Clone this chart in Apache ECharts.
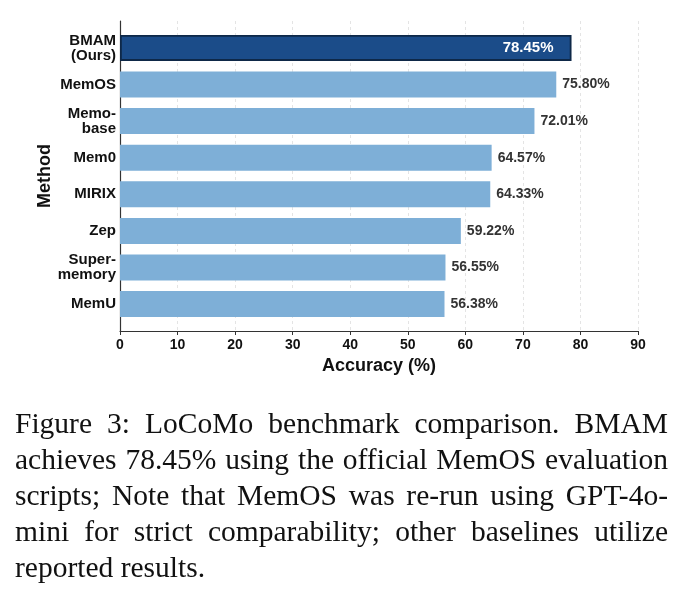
<!DOCTYPE html>
<html>
<head>
<meta charset="utf-8">
<script src="https://cdn.jsdelivr.net/npm/echarts@6/dist/echarts.min.js"></script>
<style>
  html, body { margin: 0; padding: 0; background: #fff; }
  #chart { position: absolute; left: 0; top: 0; width: 691px; height: 600px; }
  #caption { position: absolute; left: 15px; top: 405px; width: 653px;
    font-family: "Liberation Serif", "DejaVu Serif", serif; font-size: 29.5px; line-height: 36px; color: #111; }
  #caption div { text-align: justify; text-align-last: justify; white-space: nowrap; }
  #caption div.last { text-align-last: left; }
</style>
</head>
<body>
<div id="chart"></div>
<div id="caption">
  <div>Figure 3: LoCoMo benchmark comparison. BMAM</div>
  <div>achieves 78.45% using the official MemOS evaluation</div>
  <div>scripts; Note that MemOS was re-run using GPT-4o-</div>
  <div>mini for strict comparability; other baselines utilize</div>
  <div class="last">reported results.</div>
</div>
<script>
const methods = ['BMAM\n(Ours)', 'MemOS', 'Memo-\nbase', 'Mem0', 'MIRIX', 'Zep', 'Super-\nmemory', 'MemU'];
const accuracy = [78.45, 75.80, 72.01, 64.57, 64.33, 59.22, 56.55, 56.38];
const highlightIndex = 0;
const xTicks = [0, 90, 10];

const chart = echarts.init(document.getElementById('chart'), null, { renderer: 'canvas' });
const font = '"Liberation Sans", Arial, sans-serif';

const barData = accuracy.map((v, i) => {
  if (i === highlightIndex) {
    return {
      value: v,
      itemStyle: { color: '#1b4c89', borderColor: '#0e2848', borderWidth: 1.8 },
      label: { position: 'insideRight', offset: [-12, 0], color: '#ffffff', fontSize: 15 }
    };
  }
  return { value: v };
});

const option = {
  animation: false,
  grid: [
    { left: 120, right: 53, top: 29.6, height: 292.8, containLabel: false },
    { left: 120, right: 53, top: 21, bottom: 269, containLabel: false }
  ],
  xAxis: [
    { gridIndex: 0, type: 'value', min: xTicks[0], max: xTicks[1], interval: xTicks[2], show: false },
    { gridIndex: 1, type: 'value', min: xTicks[0], max: xTicks[1], interval: xTicks[2],
      name: 'Accuracy (%)', nameLocation: 'middle', nameGap: 25,
      nameTextStyle: { fontFamily: font, fontWeight: 'bold', fontSize: 18, color: '#111' },
      axisLine: { show: true, lineStyle: { color: '#333', width: 1.2 } },
      axisTick: { show: true, length: 4, lineStyle: { color: '#333', width: 1 } },
      axisLabel: { fontFamily: font, fontWeight: 'bold', fontSize: 14, color: '#111', margin: 7 },
      splitLine: { show: true, lineStyle: { color: '#dddddd', type: [3, 3], width: 0.8 } }
    }
  ],
  yAxis: [
    { gridIndex: 0, type: 'category', data: methods, inverse: true,
      name: 'Method', nameLocation: 'middle', nameGap: 66, nameRotate: 90, nameMoveOverlap: false,
      nameTextStyle: { fontFamily: font, fontWeight: 'bold', fontSize: 18, color: '#111' },
      axisLine: { show: false }, axisTick: { show: false },
      axisLabel: { fontFamily: font, fontWeight: 'bold', fontSize: 15, color: '#111', margin: 4, lineHeight: 15, align: 'right' },
      splitLine: { show: false }
    },
    { gridIndex: 1, type: 'value', min: 0, max: 1,
      axisLine: { show: true, lineStyle: { color: '#333', width: 1.2 } },
      axisTick: { show: false }, axisLabel: { show: false }, splitLine: { show: false }
    }
  ],
  series: [
    { type: 'bar', xAxisIndex: 0, yAxisIndex: 0, data: barData, barWidth: 26,
      itemStyle: { color: '#7eafd7' },
      label: { show: true, position: 'right', distance: 6, fontFamily: font, fontWeight: 'bold', fontSize: 14, color: '#333',
        formatter: p => p.value.toFixed(2) + '%' },
      z: 3
    }
  ]
};
chart.setOption(option);
</script>
</body>
</html>
